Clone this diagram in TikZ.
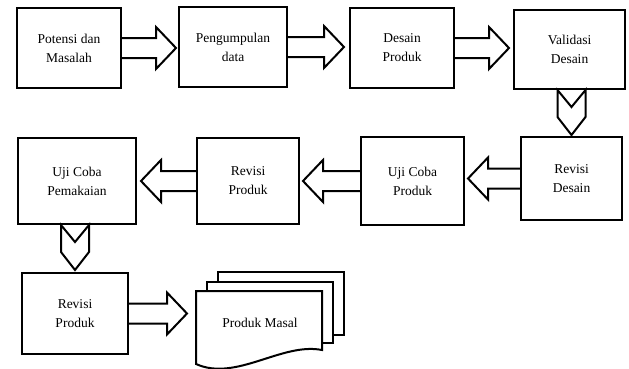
\documentclass[tikz,border=0pt]{standalone}
\usepackage{fontspec}
\setmainfont{Liberation Serif}
\usetikzlibrary{calc}

\begin{document}
\begin{tikzpicture}[x=1pt, y=-1pt, line width=2pt, line join=miter,
    every node/.style={font=\fontsize{13.5}{19}\selectfont, align=center},
    box/.style={draw, inner sep=2pt} ]

    \useasboundingbox (0,0) rectangle (629,368);

    % Draw boxes, first row.
    \node[box, minimum width=104pt, minimum height=80pt] (p1) at (69,48) {Potensi dan\\Masalah};
    \node[box, minimum width=108pt, minimum height=80pt] (p2) at (233,47) {Pengumpulan\\data};
    \node[box, minimum width=104pt, minimum height=80pt] (p3) at (402,48) {Desain\\Produk};
    \node[box, minimum width=111pt, minimum height=79pt] (p4) at (569.5,49.5) {Validasi\\Desain};

    % second row
    \node[box, minimum width=101pt, minimum height=83pt] (p5) at (571.5,178.5) {Revisi\\Desain};
    \node[box, minimum width=103pt, minimum height=88pt] (p6) at (412.5,181) {Uji Coba\\Produk};
    \node[box, minimum width=102pt, minimum height=86pt] (p7) at (248,181) {Revisi\\Produk};
    \node[box, minimum width=118pt, minimum height=86pt] (p8) at (77,181) {Uji Coba\\Pemakaian};

    % third row
    \node[box, minimum width=106pt, minimum height=81pt] (p9) at (75,313.5) {Revisi\\Produk};

    % document stack
    \coordinate (doc) at (196,291);
    \draw[fill=white] ($(doc)+(22,-19)$) rectangle ++(126,63);
    \draw[fill=white] ($(doc)+(11,-9)$) rectangle ++(126,61);
    \draw[fill=white] (doc) -- ($(doc)+(126,0)$) -- ($(doc)+(126,59)$)
        .. controls ($(doc)+(86,51)$) and ($(doc)+(40,91)$) .. ($(doc)+(0,73)$) -- cycle;
    \node[minimum width=126pt, minimum height=61pt, anchor=north west] (masal) at (doc) {Produk Masal};

    % block arrows
    \foreach \a/\b/\g in {p1.east/p2.west/2pt, p2.east/p3.west/5pt, p3.east/p4.west/4pt,
        p5.west/p6.east/3pt, p6.west/p7.east/3pt, p7.west/p8.east/4pt, p9.east/masal.west/9pt}
    {
        \coordinate (s) at (\a);
        \coordinate (t0) at (\a -| \b);
        \coordinate (t) at ($(t0)!\g!(s)$);
        \coordinate (h) at ($(t)!20pt!(s)$);
        \draw ($(s)!10pt!90:(t)$) -- ($(h)!10pt!-90:(s)$) -- ($(h)!21pt!-90:(s)$) -- (t)
            -- ($(h)!21pt!90:(s)$) -- ($(h)!10pt!90:(s)$) -- ($(s)!10pt!-90:(t)$);
    }

    % chevrons going down
    \foreach \a/\b in {p4/p5, p8/p9}
    {
        \draw (\a.south -| \b.north) ++(-14,0) -- ++(14,17) -- ++(14,-17) -- ++(0,27)
            -- ++(-14,18) -- ++(-14,-18) -- cycle;
    }

\end{tikzpicture}
\end{document}
